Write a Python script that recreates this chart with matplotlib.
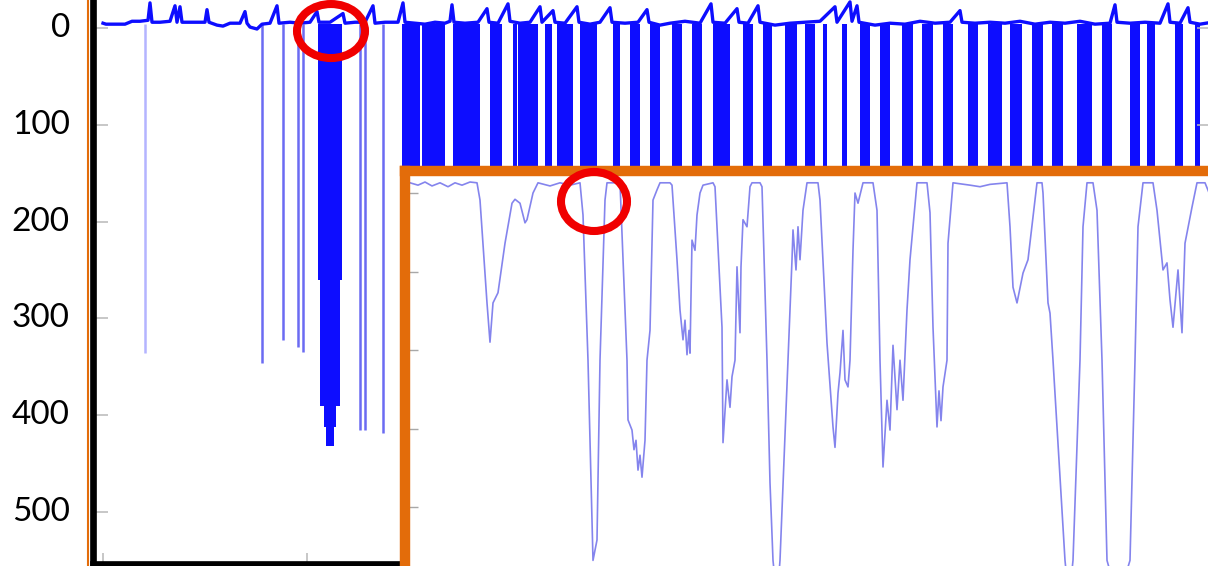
import numpy as np
import matplotlib
matplotlib.use("Agg")
from matplotlib import pyplot as plt
from matplotlib.patches import Ellipse
from matplotlib.lines import Line2D

# main trace: baseline with short upward spikes (sample, value)
base_x = [103, 106, 115, 125, 132, 140, 148, 150, 152, 160, 170, 175, 177, 180, 182, 195,
          205, 207, 209, 217, 223, 230, 240, 245, 247, 250, 257, 262, 270, 277, 279, 290,
          300, 310, 317, 319, 330, 343, 345, 355, 365, 373, 375, 385, 398, 403, 405, 415,
          425, 435, 445, 450, 452, 454, 465, 478, 487, 489, 498, 508, 510, 520, 530, 540,
          542, 553, 555, 565, 577, 579, 590, 600, 610, 612, 625, 638, 647, 649, 660, 670,
          685, 700, 711, 713, 725, 737, 739, 748, 758, 760, 775, 790, 805, 820, 835, 837,
          850, 852, 857, 859, 875, 890, 905, 920, 935, 950, 960, 962, 975, 990, 1005, 1020,
          1035, 1050, 1065, 1080, 1095, 1110, 1115, 1117, 1130, 1145, 1160, 1168, 1170, 1180,
          1188, 1190, 1200, 1212]
base_y = [-5, -4, -4, -4, -7, -7, -8, -26, -6, -6, -7, -23, -6, -22, -6, -6,
          -6, -19, -6, -3, -2, -5, -5, -17, -5, -1, 1, -4, -5, -23, -5, -6,
          -5, -6, -17, -6, -6, -15, -5, -6, -6, -23, -5, -6, -6, -26, -6, -5,
          -4, -6, -5, -7, -24, -6, -5, -6, -20, -6, -5, -25, -7, -5, -6, -22,
          -6, -18, -6, -5, -22, -6, -4, -6, -21, -6, -5, -6, -19, -6, -3, -5,
          -7, -5, -25, -6, -5, -20, -6, -5, -23, -6, -3, -5, -6, -7, -22, -6,
          -27, -7, -23, -6, -3, -5, -4, -7, -5, -6, -18, -6, -5, -6, -5, -7,
          -4, -6, -5, -7, -4, -5, -24, -6, -5, -6, -5, -25, -6, -5,
          -21, -6, -4, -6]

# single deep excursions (sample, lowest value)
dip_x = [262, 283, 298, 303, 360, 365, 383]
dip_low = [346, 322, 330, 335, 415, 415, 418]
faint_x = [145]
faint_low = [336]

# dense oscillation blocks (start, end, lowest value)
blk_start = [318, 320, 324, 326, 402, 422, 453, 490, 513, 518, 545, 557, 580, 613, 630,
             650, 672, 692, 713, 743, 763, 785, 805, 823, 842, 860, 880, 902, 922, 943,
             968, 988, 1010, 1032, 1052, 1077, 1102, 1130, 1147, 1175, 1195]
blk_end = [342, 340, 336, 334, 420, 445, 480, 502, 517, 538, 552, 573, 597, 620, 640,
           660, 682, 702, 730, 753, 772, 797, 815, 827, 847, 870, 890, 913, 933, 953,
           978, 1002, 1022, 1043, 1063, 1092, 1112, 1140, 1155, 1183, 1200]
blk_low = [260, 390, 412, 432] + [450] * 37

# zoomed-in trace (sample, value)
zoom_x = [410, 418, 425, 432, 440, 448, 455, 462, 470, 477, 480, 487, 490, 493, 498, 505,
          512, 515, 520, 525, 527, 533, 538, 550, 560, 570, 580, 583, 588, 593, 597, 600,
          605, 607, 620, 623, 627, 628, 632, 634, 636, 638, 640, 642, 645, 647, 650, 653,
          657, 660, 670, 672, 677, 680, 683, 685, 687, 689, 690, 692, 695, 697, 700, 703,
          713, 715, 722, 723, 727, 730, 732, 735, 737, 740, 741, 743, 747, 750, 752, 760,
          762, 767, 770, 773, 777, 780, 788, 792, 793, 796, 798, 800, 803, 807, 818, 820,
          827, 833, 835, 838, 840, 843, 845, 848, 850, 853, 855, 858, 863, 873, 877, 880,
          883, 887, 890, 893, 897, 900, 903, 907, 910, 917, 927, 930, 933, 937, 939, 941,
          943, 947, 948, 953, 970, 980, 990, 1007, 1010, 1013, 1017, 1023, 1028, 1037, 1042, 1043,
          1048, 1050, 1053, 1065, 1069, 1073, 1080, 1083, 1087, 1093, 1097, 1102, 1107, 1118, 1130, 1135,
          1138, 1143, 1153, 1157, 1163, 1167, 1170, 1173, 1178, 1182, 1185, 1192, 1197, 1205, 1212]
zoom_y = [-13, -10, -14, -9, -13, -8, -13, -10, -14, -13, 9, 140, 190, 140, 127, 64,
          13, 8, 13, 38, 34, 0, -13, -9, -13, -10, -13, 28, 213, 468, 442, 213,
          9, -13, -13, 85, 213, 289, 302, 327, 315, 353, 334, 362, 315, 213, 175, 9,
          -4, -13, -13, -10, 85, 149, 187, 162, 206, 175, 204, 60, 73, 28, 0, -10,
          -13, -8, 171, 318, 238, 273, 234, 213, 94, 178, 94, 34, 43, -8, -13, -13,
          -8, 213, 369, 468, 518, 468, 213, 85, 47, 98, 43, 85, 22, -13, -13, 9,
          191, 298, 324, 255, 229, 175, 238, 247, 213, 73, 0, 13, -13, -13, 22, 213,
          349, 264, 302, 194, 276, 213, 264, 149, 85, -13, -13, 25, 171, 298, 252, 290,
          247, 213, 64, -13, -10, -8, -11, -13, 43, 120, 140, 102, 85, -13, -13, 0,
          140, 153, 213, 468, 518, 468, 213, 43, -13, -13, 22, 213, 468, 518, 468, 213,
          43, -13, -13, 22, 98, 89, 136, 171, 98, 178, 64, 18, -13, -13, 9]

plt.rcParams["font.family"] = ["Lato", "DejaVu Sans"]
fig = plt.figure(figsize=(12.08, 5.66), dpi=100)
W, H = 1208, 566

# main panel
ax = fig.add_axes([92.7 / W, 2.5 / H, (1212 - 92.7) / W, 573.5 / H])
ax.set_xlim(92.7, 1212)
ax.set_ylim(553.2, -39.3)
blue = "#0d0dff"
ax.bar(blk_start, np.array(blk_low) + 4, width=np.array(blk_end) - np.array(blk_start),
       bottom=-4, align="edge", color=blue, linewidth=0)
ax.vlines(dip_x, -4, dip_low, color="#6b6bf2", linewidth=1.8)
ax.vlines(faint_x, -4, faint_low, color="#b4b4ff", linewidth=1.8)
ax.plot(base_x, base_y, color=blue, linewidth=2.4)
ax.add_patch(Ellipse((331, 3.1), 68, 55.8, fill=False, edgecolor="#f00000",
                     linewidth=5.8, zorder=6, clip_on=False))

ax.set_yticks([0, 100, 200, 300, 400, 500])
ax.set_xticks(np.arange(103, 1212, 204))
ax.tick_params(axis="y", direction="in", length=11, width=1.1, color="#b8b8b8",
               labelsize=24, pad=16.5, right=True)
for lab in ax.get_yticklabels():
    lab.set_verticalalignment("center")
ax.tick_params(axis="x", direction="in", length=8, width=1.1, color="#b8b8b8",
               labelbottom=False)
for s in ["top", "right"]:
    ax.spines[s].set_visible(False)
ax.spines["left"].set_linewidth(4.8)
ax.spines["bottom"].set_linewidth(4.8)
ax.spines["left"].set_color("black")
ax.spines["bottom"].set_color("black")
fig.add_artist(Line2D([88 / W, 88 / W], [0, 1], transform=fig.transFigure,
                      color="#e36c0a", linewidth=1.5))

# zoomed inset
ins = fig.add_axes([405 / W, -24 / H, (1230 - 405) / W, (590 - 171.5) / H], zorder=2)
ins.set_facecolor("white")
ins.set_xlim(405, 1230)
ins.set_ylim(505.7, -27.4)
ins.plot(zoom_x, zoom_y, color="#6f6fea", linewidth=1.2, alpha=0.85)
ins.set_yticks([0, 100, 200, 300, 400])
ins.set_xticks([])
ins.tick_params(axis="y", direction="in", length=9.4, width=1.0, color="#a8a8a8",
                labelleft=False)
for s in ins.spines.values():
    s.set_color("#e36c0a")
    s.set_linewidth(7.5)
ins.add_patch(Ellipse((594, 10.8), 66, 75.2, fill=False, edgecolor="#f00000",
                      linewidth=5.8, zorder=6, clip_on=False))

fig.savefig("out.png", dpi=100)
